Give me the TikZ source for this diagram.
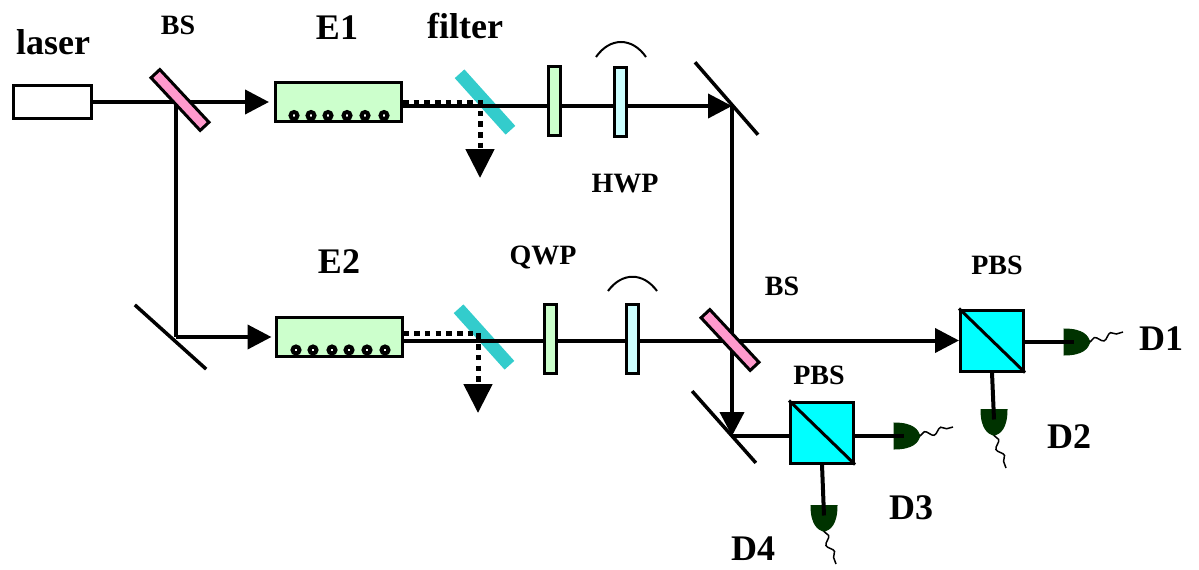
\documentclass[tikz,border=0pt]{standalone}
\usepackage{fontspec}
\setmainfont{Liberation Serif}
\usetikzlibrary{arrows.meta,backgrounds,decorations.pathmorphing}
\definecolor{crystal}{HTML}{CCFFCC}
\definecolor{hwpblue}{HTML}{CCFFFF}
\definecolor{filtercol}{HTML}{33CCCC}
\definecolor{bspink}{HTML}{FF99CC}
\definecolor{pbscol}{HTML}{00FFFF}
\definecolor{detcol}{HTML}{003300}
\tikzset{
  box/.style={draw, line width=3pt, inner sep=0pt},
  source/.style={box, fill=white, minimum width=78pt, minimum height=33pt},
  crystalbox/.style={box, fill=crystal, minimum width=126pt, minimum height=39pt},
  spool/.style={draw, circle, fill=white, line width=4pt, minimum size=7pt, inner sep=0pt},
  plate/.style={box, minimum width=12pt, minimum height=69pt},
  bsplate/.style={box, fill=bspink, minimum width=72pt, minimum height=12pt, rotate=-47},
  filterplate/.style={fill=filtercol, inner sep=0pt, minimum width=76pt, minimum height=13pt, rotate=-48},
  mirror/.style={fill=black, inner sep=0pt, minimum width=96pt, minimum height=3.5pt},
  pbs/.style={box, fill=pbscol, minimum width=63pt, minimum height=61pt},
  pics/detector/.style={code={
    \fill[detcol, draw=detcol, line width=1pt] (-13,-13) .. controls (6,-13) and (11,-6) .. (13,0)
      .. controls (11,6) and (6,13) .. (-13,13) -- cycle;
    \coordinate (-in) at (-3,0);
    \coordinate (-tip) at (13,0);
  }},
  lab/.style={font=\bfseries\fontsize{36}{38}\selectfont, inner sep=0pt},
  smalllab/.style={font=\bfseries\fontsize{28}{30}\selectfont, inner sep=0pt},
  beam/.style={line width=4pt},
  arr/.style={beam, -{Triangle[length=24pt,width=24pt]}},
  dump/.style={line width=5pt, dash pattern=on 5.5pt off 5.2pt, -{Triangle[length=29pt,width=28pt]}},
  wave/.style={line width=1.5pt, decorate, decoration={snake, amplitude=3pt, segment length=17pt}},
  wparc/.style={line width=2pt}
}
\begin{document}
\begin{tikzpicture}[x=1pt,y=-1pt]
  \useasboundingbox (0,0) rectangle (1199,570);
  % upper arm
  \node[source] (laser) at (52.5,102) {};
  \node[bsplate] (bsa) at (180,100) {};
  \node[crystalbox] (ea) at (338.5,102) {};
  \foreach \n/\x in {1/294,2/311,3/328,4/347,5/365,6/384}
    \node[spool] (sa\n) at (\x,115.5) {};
  \node[plate, fill=crystal] (pa) at (554.5,101) {};
  \node[plate, fill=hwpblue] (hwp) at (620.5,102) {};
  \node[mirror, rotate=-49] (ma) at (726.5,98.5) {};
  % lower arm
  \node[mirror, rotate=-42] (mb) at (170.5,337) {};
  \node[crystalbox] (eb) at (339,337) {};
  \foreach \n/\x in {1/296,2/313,3/332,4/349,5/367,6/385}
    \node[spool] (sb\n) at (\x,350) {};
  \node[plate, fill=crystal] (pb) at (550,338.5) {};
  \node[plate, fill=hwpblue] (qwp) at (632,338.5) {};
  \node[bsplate] (bsb) at (730,340) {};
  \node[mirror, rotate=-48.4] (mc) at (724,427) {};
  % analysers
  \node[pbs] (pbsa) at (992,340.5) {};
  \node[pbs] (pbsb) at (822,432.5) {};
  \pic (da) at (1077,342) {detector};
  \pic[rotate=-90] (db) at (994,422.5) {detector};
  \pic (dc) at (907,436) {detector};
  \pic[rotate=-90] (dd) at (824,518.5) {detector};
  % turning points and free ends
  \coordinate (split) at (176,102);
  \coordinate (turnb) at (176,337);
  \coordinate (turna) at (732,106);
  \coordinate (beamb) at (732,340.5);
  \coordinate (turnc) at (732,436);
  \coordinate (dumpa) at (480,178);
  \coordinate (dumpb) at (478,413);
  \coordinate (taila) at (1123,332);
  \coordinate (tailb) at (1006,468);
  \coordinate (tailc) at (953,427);
  \coordinate (taild) at (836,564);
  \begin{scope}[on background layer]
    \node[filterplate] (fa) at (485,102) {};
    \node[filterplate] (fb) at (484,337) {};
    \draw[arr, shorten >=5pt] (laser) -- (ea);
    \draw[beam] (split) -- (turnb);
    \draw[arr, shorten >=3pt] (turnb) -- (eb);
    \draw[arr] (ea.east |- turna) -- (turna);
    \draw[beam] (turna) -- (beamb);
    \draw[arr] (eb.east |- beamb) -- (pbsa.west |- beamb);
    \draw[arr] (beamb) -- (turnc);
    \draw[beam] (turnc) -- (pbsb.west |- turnc);
    \draw[dump] (ea.east) -| (dumpa);
    \draw[dump] ([yshift=4pt]eb.east) -| (dumpb);
  \end{scope}
  \draw[line width=3pt] (pbsa.north west) -- (pbsa.south east);
  \draw[line width=3pt] (pbsb.north west) -- (pbsb.south east);
  \draw[beam] (pbsa.east |- da-in) -- (da-in);
  \draw[beam] (pbsa.south) -- (db-in);
  \draw[beam] (pbsb.east |- dc-in) -- (dc-in);
  \draw[beam] (pbsb.south) -- (dd-in);
  \draw[wave] (da-tip) -- (taila);
  \draw[wave] (db-tip) -- (tailb);
  \draw[wave] (dc-tip) -- (tailc);
  \draw[wave] (dd-tip) -- (taild);
  % arcs over the plates
  \draw[wparc] (596,57) .. controls (610,37) and (632,37) .. (646,57);
  \draw[wparc] (608,291) .. controls (622,272) and (643,272) .. (657,291);
  % labels
  \node[lab] (llaser) at (53,42) {laser};
  \node[smalllab] (lbsa) at (178,25) {BS};
  \node[lab] (lea) at (337,28) {E1};
  \node[lab] (lfilter) at (465,26) {filter};
  \node[smalllab] (lhwp) at (625,184) {HWP};
  \node[lab] (leb) at (339,262) {E2};
  \node[smalllab] (lqwp) at (543,257) {QWP};
  \node[smalllab] (lbsb) at (782,286) {BS};
  \node[smalllab] (lpbsa) at (997,265) {PBS};
  \node[smalllab] (lpbsb) at (819,375) {PBS};
  \node[lab] (lda) at (1161,339) {D1};
  \node[lab] (ldb) at (1069,437) {D2};
  \node[lab] (ldc) at (911,508) {D3};
  \node[lab] (ldd) at (753,549) {D4};
\end{tikzpicture}
\end{document}
